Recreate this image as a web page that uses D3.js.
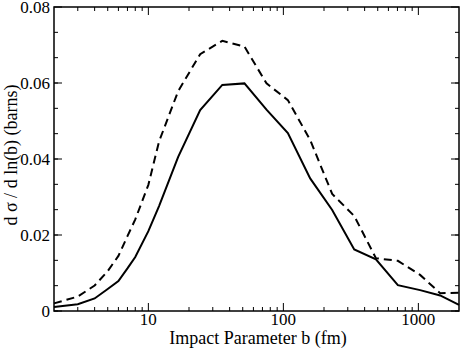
<!DOCTYPE html>
<html>
<head>
<meta charset="utf-8">
<script src="https://cdn.jsdelivr.net/npm/d3@7"></script>
<style>
  body { margin: 0; background: #fff; }
</style>
</head>
<body>
<div id="chart"></div>
<script>
// impact parameter b (fm) sample points
const bValues = [2, 3, 4, 5, 6, 7, 8, 10, 12, 16.6, 24.2, 35.3, 51.5, 75, 108, 158, 230, 335, 485, 705, 1030, 1450, 2000];
// solid curve
const solidSeries = [0.00105, 0.0018, 0.0033, 0.0058, 0.0079, 0.0112, 0.0142, 0.021, 0.0276, 0.0405, 0.0529, 0.0595, 0.0599, 0.053, 0.0468, 0.0349, 0.0266, 0.0162, 0.0136, 0.0068, 0.0055, 0.0041, 0.0016];
// dashed curve
const dashedSeries = [0.002, 0.0038, 0.0067, 0.0105, 0.0145, 0.0197, 0.0241, 0.0332, 0.0446, 0.0578, 0.0676, 0.0711, 0.0696, 0.0599, 0.0555, 0.045, 0.0308, 0.025, 0.0139, 0.0132, 0.0095, 0.0047, 0.0048];
const xTickLabels = [10, 100, 1000];
const yTickLabels = [0, 0.02, 0.04, 0.06, 0.08];

const width = 462, height = 349;
const margin = {top: 7, right: 3, bottom: 38, left: 54};
const w = width - margin.left - margin.right;
const h = height - margin.top - margin.bottom;
const serif = "'Liberation Serif'";

const svg = d3.select('#chart').append('svg')
    .attr('width', width)
    .attr('height', height);

const g = svg.append('g')
    .attr('transform', `translate(${margin.left},${margin.top})`);

const x = d3.scaleLog().domain([2, 2000]).range([0, w]);
const y = d3.scaleLinear().domain([0, 0.08]).range([h, 0]);

// minor ticks
const xMinor = [];
[1, 10, 100, 1000].forEach(d => {
    for (let k = 2; k <= 9; k++) {
        const v = d * k;
        if (v > 2 && v < 2000) xMinor.push(v);
    }
});
const yMinor = d3.range(0, 12).map(i => i * 0.02 / 3);

const tickG = g.append('g').attr('stroke', '#000').attr('stroke-width', 1);
function xTick(v, len) {
    const px = x(v);
    tickG.append('line').attr('x1', px).attr('x2', px).attr('y1', h).attr('y2', h - len);
    tickG.append('line').attr('x1', px).attr('x2', px).attr('y1', 0).attr('y2', len);
}
function yTick(v, len) {
    const py = y(v);
    tickG.append('line').attr('x1', 0).attr('x2', len).attr('y1', py).attr('y2', py);
    tickG.append('line').attr('x1', w).attr('x2', w - len).attr('y1', py).attr('y2', py);
}
xMinor.forEach(v => xTick(v, 4));
xTickLabels.forEach(v => xTick(v, 8));
yMinor.forEach(v => yTick(v, 4));
yTickLabels.forEach(v => yTick(v, 8));

// tick labels
g.selectAll('.xlab')
    .data(xTickLabels)
    .enter().append('text')
    .attr('x', d => x(d))
    .attr('y', h + 14)
    .attr('text-anchor', 'middle')
    .style('font-family', serif)
    .style('font-size', '17px')
    .text(d => d);

g.selectAll('.ylab')
    .data(yTickLabels)
    .enter().append('text')
    .attr('x', -4)
    .attr('y', d => y(d) + 6)
    .attr('text-anchor', 'end')
    .style('font-family', serif)
    .style('font-size', '17px')
    .text(d => d === 0 ? '0' : d.toFixed(2));

// curves
const line = d3.line()
    .x((d, i) => x(bValues[i]))
    .y(d => y(d));

g.append('path')
    .datum(dashedSeries)
    .attr('fill', 'none')
    .attr('stroke', '#000')
    .attr('stroke-width', 2)
    .attr('stroke-dasharray', '8,5')
    .attr('d', line);

g.append('path')
    .datum(solidSeries)
    .attr('fill', 'none')
    .attr('stroke', '#000')
    .attr('stroke-width', 2)
    .attr('d', line);

// frame
g.append('rect')
    .attr('width', w)
    .attr('height', h)
    .attr('fill', 'none')
    .attr('stroke', '#000')
    .attr('stroke-width', 1.5);

// axis titles
svg.append('text')
    .attr('x', 258)
    .attr('y', 344)
    .attr('text-anchor', 'middle')
    .style('font-family', serif)
    .style('font-size', '18px')
    .text('Impact Parameter b (fm)');

svg.append('text')
    .attr('transform', 'translate(17,155) rotate(-90)')
    .attr('text-anchor', 'middle')
    .style('font-family', serif)
    .style('font-size', '18px')
    .text('d σ / d ln(b) (barns)');
</script>
</body>
</html>
